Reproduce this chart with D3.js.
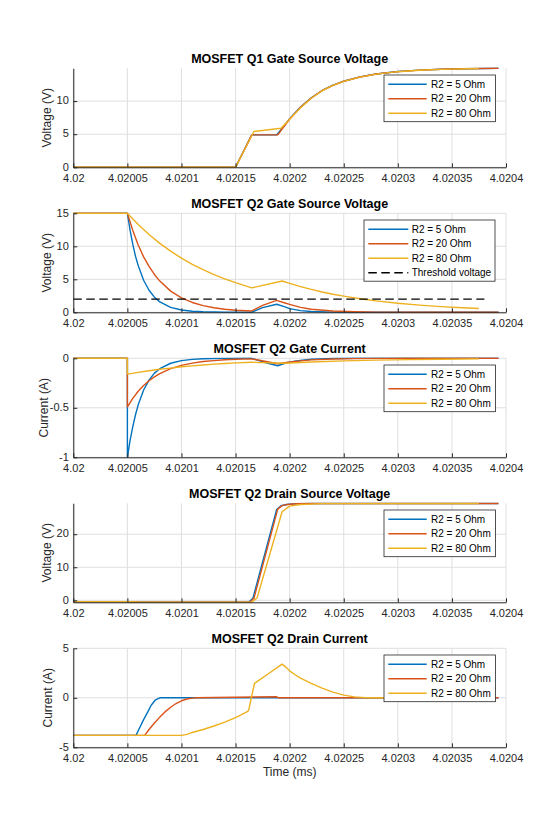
<!DOCTYPE html>
<html>
<head>
<meta charset="utf-8">
<script src="https://cdn.jsdelivr.net/npm/d3@7"></script>
<style>
body { margin: 0; background: #fff; }
svg { font-family: "Liberation Sans", Arial, sans-serif; }
</style>
</head>
<body>
<div class="container"></div>
<script>
const w = 560
const h = 840

// shared axis / legend data
const xTicks = [4.02, 4.02005, 4.0201, 4.02015, 4.0202, 4.02025, 4.0203, 4.02035, 4.0204]
const xTickLabels = ['4.02', '4.02005', '4.0201', '4.02015', '4.0202', '4.02025', '4.0203', '4.02035', '4.0204']
const seriesNames = ['R2 = 5 Ohm', 'R2 = 20 Ohm', 'R2 = 80 Ohm']
const thresholdName = 'Threshold voltage'
const colors = ['#0072BD', '#D95319', '#EDB120']

const titles = ['MOSFET Q1 Gate Source Voltage', 'MOSFET Q2 Gate Source Voltage', 'MOSFET Q2 Gate Current',
    'MOSFET Q2 Drain Source Voltage', 'MOSFET Q2 Drain Current']
const yLabels = ['Voltage (V)', 'Voltage (V)', 'Current (A)', 'Voltage (V)', 'Current (A)']
const yDomains = [[0, 14.95], [0, 15], [-1, 0], [-0.6, 29.35], [-5, 5]]
const yTicks = [[0, 5, 10], [0, 5, 10, 15], [-1, -0.5, 0], [0, 10, 20], [-5, 0, 5]]
const yTickLabels = [['0', '5', '10'], ['0', '5', '10', '15'], ['-1', '-0.5', '0'], ['0', '10', '20'], ['-5', '0', '5']]

// Q1 gate source voltage [time ms, V]
const q1Vgs5 = [[4.02, 0], [4.02015, 0], [4.020165, 4.9], [4.020188, 4.9], [4.020195, 6.3], [4.0202, 7.35],
    [4.02021, 9.1], [4.02022, 10.5], [4.02023, 11.6], [4.02024, 12.4], [4.02025, 13.0], [4.020265, 13.65],
    [4.02028, 14.09], [4.0203, 14.46], [4.02032, 14.68], [4.02034, 14.81], [4.02036, 14.89], [4.020393, 14.95]]
const q1Vgs20 = [[4.02, 0], [4.02015, 0], [4.020165, 4.9], [4.020189, 4.9], [4.020195, 6.2], [4.0202, 7.3],
    [4.02021, 9.05], [4.02022, 10.47], [4.02023, 11.58], [4.02024, 12.38], [4.02025, 12.99], [4.020265, 13.64],
    [4.02028, 14.08], [4.0203, 14.45], [4.02032, 14.67], [4.02034, 14.8], [4.02036, 14.88], [4.020393, 14.95]]
const q1Vgs80 = [[4.02, 0], [4.02015, 0], [4.020167, 5.4], [4.020192, 5.9], [4.0202, 7.25], [4.02021, 9.0],
    [4.02022, 10.43], [4.02023, 11.56], [4.02024, 12.37], [4.02025, 12.97], [4.020265, 13.62], [4.02028, 14.07],
    [4.0203, 14.44], [4.02032, 14.66], [4.02034, 14.79], [4.020375, 14.92]]

// Q2 gate source voltage
const q2Vgs5 = [[4.02, 15], [4.02005, 15], [4.0200525, 12.4], [4.020055, 10.3], [4.0200575, 8.5], [4.02006, 7.08],
    [4.020065, 4.86], [4.02007, 3.34], [4.020075, 2.29], [4.02008, 1.57], [4.02009, 0.74], [4.0201, 0.35],
    [4.02011, 0.16], [4.02012, 0.08], [4.02014, 0.02], [4.020165, 0.01], [4.020175, 0.7], [4.020188, 1.22],
    [4.020195, 0.85], [4.0202, 0.55], [4.02021, 0.25], [4.02022, 0.12], [4.02024, 0.03], [4.02027, 0], [4.020393, 0]]
const q2Vgs20 = [[4.02, 15], [4.02005, 15], [4.020055, 12.4], [4.02006, 10.2], [4.020065, 8.4], [4.02007, 6.95],
    [4.020075, 5.73], [4.02008, 4.73], [4.02009, 3.21], [4.0201, 2.19], [4.02011, 1.49], [4.02012, 1.02],
    [4.02013, 0.69], [4.02014, 0.47], [4.02015, 0.32], [4.020165, 0.2], [4.020175, 1.05], [4.020188, 1.8],
    [4.020195, 1.45], [4.0202, 1.2], [4.02021, 0.75], [4.02022, 0.47], [4.02024, 0.2], [4.02026, 0.08],
    [4.02028, 0.03], [4.02031, 0], [4.020393, 0]]
const q2Vgs80 = [[4.02, 15], [4.02005, 15], [4.02006, 13.3], [4.02007, 11.78], [4.02008, 10.44], [4.02009, 9.26],
    [4.0201, 8.2], [4.02011, 7.27], [4.02012, 6.45], [4.02013, 5.71], [4.02014, 5.07], [4.02015, 4.49],
    [4.020165, 3.7], [4.020193, 4.74], [4.0202, 4.38], [4.02021, 3.9], [4.02022, 3.47], [4.02023, 3.08],
    [4.02024, 2.74], [4.02025, 2.45], [4.020265, 2.06], [4.02028, 1.73], [4.0203, 1.37], [4.02032, 1.09],
    [4.02034, 0.86], [4.02036, 0.68], [4.020375, 0.57]]
const threshold = [[4.02, 2], [4.02038, 2]]

// Q2 gate current
const q2Ig5 = [[4.02, 0], [4.02005, 0], [4.02005, -1], [4.0200525, -0.83], [4.020055, -0.69], [4.0200575, -0.57],
    [4.02006, -0.47], [4.020065, -0.32], [4.02007, -0.22], [4.020075, -0.15], [4.02008, -0.105], [4.02009, -0.05],
    [4.0201, -0.023], [4.02011, -0.011], [4.02012, -0.005], [4.02014, -0.001], [4.020165, 0], [4.020178, -0.045],
    [4.020189, -0.075], [4.020197, -0.045], [4.020205, -0.03], [4.02021, -0.022], [4.02022, -0.01],
    [4.02024, -0.002], [4.02026, 0], [4.020393, 0]]
const q2Ig20 = [[4.02, 0], [4.02005, 0], [4.02005, -0.49], [4.020055, -0.405], [4.02006, -0.333], [4.020065, -0.275],
    [4.02007, -0.227], [4.020075, -0.187], [4.02008, -0.155], [4.02009, -0.105], [4.0201, -0.072], [4.02011, -0.049],
    [4.02012, -0.033], [4.02013, -0.023], [4.02014, -0.015], [4.02015, -0.01], [4.020165, -0.006], [4.020177, -0.03],
    [4.020189, -0.055], [4.020197, -0.043], [4.020205, -0.033], [4.02021, -0.026], [4.02022, -0.016],
    [4.02024, -0.007], [4.02026, -0.003], [4.02028, -0.001], [4.02031, 0], [4.020393, 0]]
const q2Ig80 = [[4.02, 0], [4.02005, 0], [4.02005, -0.16], [4.02006, -0.142], [4.02007, -0.126], [4.02008, -0.111],
    [4.02009, -0.099], [4.0201, -0.086], [4.02011, -0.076], [4.02012, -0.067], [4.02013, -0.059], [4.02014, -0.052],
    [4.02015, -0.046], [4.020165, -0.04], [4.020193, -0.05], [4.0202, -0.047], [4.02022, -0.037], [4.02025, -0.026],
    [4.02028, -0.018], [4.02031, -0.013], [4.02034, -0.009], [4.020375, -0.006]]

// Q2 drain source voltage
const q2Vds5 = [[4.02, -0.4], [4.02005, -0.4], [4.02006, -0.52], [4.02008, -0.58], [4.020162, -0.58],
    [4.020166, 0.6], [4.020188, 27.5], [4.020192, 28.6], [4.020197, 29.0], [4.020205, 29.2], [4.02022, 29.3],
    [4.020393, 29.3]]
const q2Vds20 = [[4.02, -0.4], [4.02005, -0.4], [4.02006, -0.52], [4.02008, -0.58], [4.020163, -0.58],
    [4.020167, 0.6], [4.020189, 27.6], [4.020193, 28.65], [4.020198, 29.0], [4.020206, 29.2], [4.02022, 29.3],
    [4.020393, 29.3]]
const q2Vds80 = [[4.02, -0.4], [4.02005, -0.4], [4.02006, -0.52], [4.02008, -0.58], [4.020165, -0.58],
    [4.02017, 0.8], [4.020193, 26.8], [4.0202, 28.5], [4.02021, 29.0], [4.02023, 29.25], [4.020375, 29.3]]

// Q2 drain current
const q2Id5 = [[4.02, -3.8], [4.020058, -3.8], [4.020061, -3.1], [4.020065, -2.2], [4.020069, -1.4],
    [4.020072, -0.75], [4.020076, -0.2], [4.02008, 0], [4.020393, 0]]
const q2Id20 = [[4.02, -3.8], [4.020066, -3.8], [4.02007, -3.2], [4.020075, -2.55], [4.02008, -1.95],
    [4.020085, -1.4], [4.02009, -0.95], [4.020095, -0.58], [4.0201, -0.3], [4.020105, -0.12], [4.02011, -0.03],
    [4.020114, 0], [4.02015, 0.06], [4.020188, 0.1], [4.02019, 0], [4.020393, 0]]
const q2Id80 = [[4.02, -3.8], [4.0201, -3.8], [4.020105, -3.7], [4.02011, -3.5], [4.02012, -3.2], [4.02013, -2.85],
    [4.02014, -2.45], [4.02015, -2.0], [4.02016, -1.45], [4.020162, -1.3], [4.0201675, 1.45], [4.02018, 2.4],
    [4.020193, 3.4], [4.020197, 3.05], [4.0202, 2.72], [4.020205, 2.33], [4.02021, 1.98], [4.02022, 1.45],
    [4.02023, 0.98], [4.02024, 0.58], [4.02025, 0.27], [4.02026, 0.09], [4.02027, 0.02], [4.02028, 0], [4.020375, 0]]

const panelSeries = [
    [q1Vgs5, q1Vgs20, q1Vgs80],
    [q2Vgs5, q2Vgs20, q2Vgs80],
    [q2Ig5, q2Ig20, q2Ig80],
    [q2Vds5, q2Vds20, q2Vds80],
    [q2Id5, q2Id20, q2Id80]
]

// layout
const left = 73.3
const right = 506
const plotH = 99
const tops = [68.3, 213.3, 358.3, 503.3, 648.3]
const yLabelX = [47, 47, 44, 47, 48]
const ink = '#262626'

const svg = d3.select('.container')
    .append('svg')
    .attr('width', w)
    .attr('height', h)

const x = d3.scaleLinear()
    .domain([4.02, 4.0204])
    .range([left, right])

panelSeries.forEach((series, i) => {
    const top = tops[i]
    const bottom = top + plotH
    const y = d3.scaleLinear()
        .domain(yDomains[i])
        .range([bottom, top])
    const g = svg.append('g')

    // grid
    g.append('g').selectAll('line')
        .data(xTicks)
        .enter()
        .append('line')
        .attr('x1', d => x(d)).attr('x2', d => x(d))
        .attr('y1', top).attr('y2', bottom)
        .attr('stroke', '#dfdfdf')
        .attr('stroke-width', 1)
    g.append('g').selectAll('line')
        .data(yTicks[i])
        .enter()
        .append('line')
        .attr('x1', left).attr('x2', right)
        .attr('y1', d => y(d)).attr('y2', d => y(d))
        .attr('stroke', '#dfdfdf')
        .attr('stroke-width', 1)

    svg.append('clipPath')
        .attr('id', 'clip' + i)
        .append('rect')
        .attr('x', left - 1)
        .attr('y', top - 1)
        .attr('width', right - left + 2)
        .attr('height', plotH + 2)

    const line = d3.line()
        .x(d => x(d[0]))
        .y(d => y(d[1]))

    const plot = g.append('g').attr('clip-path', `url(#clip${i})`)
    series.forEach((s, j) => {
        plot.append('path')
            .attr('d', line(s))
            .attr('fill', 'none')
            .attr('stroke', colors[j])
            .attr('stroke-width', 1.4)
            .attr('stroke-linejoin', 'round')
    })
    if (i === 1) {
        plot.append('path')
            .attr('d', line(threshold))
            .attr('fill', 'none')
            .attr('stroke', '#000')
            .attr('stroke-width', 1.4)
            .attr('stroke-dasharray', '8.5,4.5')
    }

    // axes
    const xAxis = d3.axisBottom(x)
        .tickValues(xTicks)
        .tickFormat((d, k) => xTickLabels[k])
        .tickSizeInner(-4)
        .tickSizeOuter(0)
        .tickPadding(7.3)
    const yAxis = d3.axisLeft(y)
        .tickValues(yTicks[i])
        .tickFormat((d, k) => yTickLabels[i][k])
        .tickSizeInner(-4)
        .tickSizeOuter(0)
        .tickPadding(4.5)
    const gx = g.append('g')
        .attr('transform', 'translate(0,' + bottom + ')')
        .call(xAxis)
    const gy = g.append('g')
        .attr('transform', 'translate(' + left + ',0)')
        .call(yAxis)
    gy.selectAll('text').attr('dy', '0.25em')
    ;[gx, gy].forEach(a => {
        a.attr('font-family', null).attr('font-size', 11)
        a.selectAll('path, line').attr('stroke', ink)
        a.selectAll('text').attr('fill', ink)
    })

    // title and label
    g.append('text')
        .text(titles[i])
        .attr('x', (left + right) / 2)
        .attr('y', top - 5)
        .attr('text-anchor', 'middle')
        .attr('font-size', 12.5)
        .attr('font-weight', 'bold')
        .attr('fill', '#000')
    g.append('text')
        .text(yLabels[i])
        .attr('transform', `translate(${yLabelX[i]},${top + plotH / 2}) rotate(-90)`)
        .attr('text-anchor', 'middle')
        .attr('dy', '0.35em')
        .attr('font-size', 12)
        .attr('fill', ink)

    // legend
    const names = i === 1 ? seriesNames.concat([thresholdName]) : seriesNames
    const legX = i === 1 ? 364 : 384
    const legW = i === 1 ? 131 : 111.5
    const legTop = top + 6.7
    const lineEnd = i === 1 ? 44.3 : 42.7
    const textX = i === 1 ? 47.7 : 47
    const leg = g.append('g')
    leg.append('rect')
        .attr('x', legX)
        .attr('y', legTop)
        .attr('width', legW)
        .attr('height', 3.2 + names.length * 14.5)
        .attr('fill', '#fff')
        .attr('stroke', ink)
        .attr('stroke-width', 0.8)
    names.forEach((n, k) => {
        const ly = legTop + 9.3 + k * 14.5
        leg.append('line')
            .attr('x1', legX + 4.3)
            .attr('x2', legX + lineEnd)
            .attr('y1', ly).attr('y2', ly)
            .attr('stroke', k < 3 ? colors[k] : '#000')
            .attr('stroke-width', 1.4)
            .attr('stroke-dasharray', k < 3 ? null : '8.5,4.5')
        leg.append('text')
            .text(n)
            .attr('x', legX + textX)
            .attr('y', ly)
            .attr('dy', '0.35em')
            .attr('font-size', 10)
            .attr('fill', '#000')
    })
})

svg.append('text')
    .text('Time (ms)')
    .attr('x', (left + right) / 2)
    .attr('y', tops[4] + plotH + 29)
    .attr('text-anchor', 'middle')
    .attr('font-size', 12)
    .attr('fill', ink)
</script>
</body>
</html>
